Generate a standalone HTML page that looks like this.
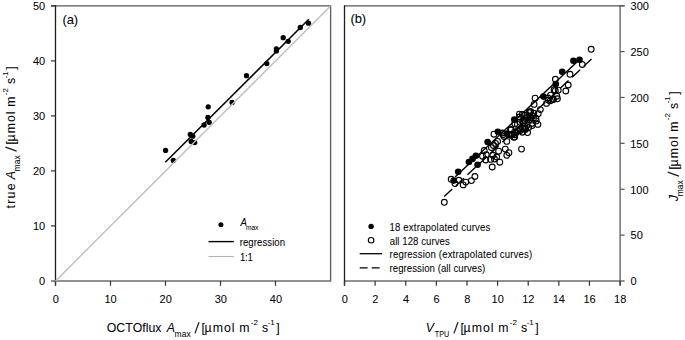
<!DOCTYPE html>
<html><head><meta charset="utf-8"><style>
html,body{margin:0;padding:0;background:#fff;}
svg{display:block;}
text{font-family:"Liberation Sans", sans-serif;fill:#000;stroke:#000;stroke-width:0.04px;font-kerning:none;}
</style></head><body>
<svg width="685" height="340" viewBox="0 0 685 340">
<line x1="51" y1="5.85" x2="331.2" y2="5.85" stroke="#555" stroke-width="1.3"/>
<line x1="330.6" y1="5.7" x2="330.6" y2="281" stroke="#5a5a5a" stroke-width="1.3"/>
<line x1="51" y1="281" x2="331.2" y2="281" stroke="#6c6c6c" stroke-width="1.7"/>
<line x1="55.5" y1="5.2" x2="55.5" y2="285.6" stroke="#1e1e1e" stroke-width="1.3"/>
<text x="39.01" y="284.65" font-size="11.0">0</text>
<line x1="51" y1="225.90" x2="55.5" y2="225.90" stroke="#333" stroke-width="1.2"/>
<text x="32.89" y="229.65" font-size="11.0">10</text>
<line x1="51" y1="170.90" x2="55.5" y2="170.90" stroke="#333" stroke-width="1.2"/>
<text x="32.89" y="174.65" font-size="11.0">20</text>
<line x1="51" y1="115.90" x2="55.5" y2="115.90" stroke="#333" stroke-width="1.2"/>
<text x="32.89" y="119.65" font-size="11.0">30</text>
<line x1="51" y1="60.90" x2="55.5" y2="60.90" stroke="#333" stroke-width="1.2"/>
<text x="32.89" y="64.65" font-size="11.0">40</text>
<line x1="51" y1="5.90" x2="55.5" y2="5.90" stroke="#333" stroke-width="1.2"/>
<text x="32.89" y="9.65" font-size="11.0">50</text>
<line x1="55.50" y1="281" x2="55.50" y2="285.8" stroke="#333" stroke-width="1.2"/>
<text x="52.74" y="302.60" font-size="11.0">0</text>
<line x1="110.50" y1="281" x2="110.50" y2="285.8" stroke="#333" stroke-width="1.2"/>
<text x="104.48" y="302.60" font-size="11.0">10</text>
<line x1="165.50" y1="281" x2="165.50" y2="285.8" stroke="#333" stroke-width="1.2"/>
<text x="159.62" y="302.60" font-size="11.0">20</text>
<line x1="220.50" y1="281" x2="220.50" y2="285.8" stroke="#333" stroke-width="1.2"/>
<text x="214.69" y="302.60" font-size="11.0">30</text>
<line x1="275.50" y1="281" x2="275.50" y2="285.8" stroke="#333" stroke-width="1.2"/>
<text x="269.77" y="302.60" font-size="11.0">40</text>
<line x1="344.5" y1="5.85" x2="624.6" y2="5.85" stroke="#555" stroke-width="1.3"/>
<line x1="344.5" y1="281" x2="624.6" y2="281" stroke="#6c6c6c" stroke-width="1.7"/>
<line x1="620.1" y1="5.2" x2="620.1" y2="285.6" stroke="#5a5a5a" stroke-width="1.3"/>
<line x1="344.5" y1="5.2" x2="344.5" y2="285.6" stroke="#1e1e1e" stroke-width="1.3"/>
<text x="630.57" y="285.30" font-size="11.0">0</text>
<line x1="620.1" y1="235.12" x2="624.6" y2="235.12" stroke="#555" stroke-width="1.2"/>
<text x="630.56" y="239.42" font-size="11.0">50</text>
<line x1="620.1" y1="189.23" x2="624.6" y2="189.23" stroke="#555" stroke-width="1.2"/>
<text x="630.16" y="193.53" font-size="11.0">100</text>
<line x1="620.1" y1="143.34" x2="624.6" y2="143.34" stroke="#555" stroke-width="1.2"/>
<text x="630.16" y="147.65" font-size="11.0">150</text>
<line x1="620.1" y1="97.46" x2="624.6" y2="97.46" stroke="#555" stroke-width="1.2"/>
<text x="630.45" y="101.76" font-size="11.0">200</text>
<line x1="620.1" y1="51.58" x2="624.6" y2="51.58" stroke="#555" stroke-width="1.2"/>
<text x="630.45" y="55.88" font-size="11.0">250</text>
<line x1="620.1" y1="5.69" x2="624.6" y2="5.69" stroke="#555" stroke-width="1.2"/>
<text x="630.58" y="9.99" font-size="11.0">300</text>
<line x1="344.50" y1="281" x2="344.50" y2="285.8" stroke="#333" stroke-width="1.2"/>
<text x="341.74" y="302.60" font-size="11.0">0</text>
<line x1="375.12" y1="281" x2="375.12" y2="285.8" stroke="#333" stroke-width="1.2"/>
<text x="372.36" y="302.60" font-size="11.0">2</text>
<line x1="405.74" y1="281" x2="405.74" y2="285.8" stroke="#333" stroke-width="1.2"/>
<text x="403.02" y="302.60" font-size="11.0">4</text>
<line x1="436.36" y1="281" x2="436.36" y2="285.8" stroke="#333" stroke-width="1.2"/>
<text x="433.56" y="302.60" font-size="11.0">6</text>
<line x1="466.98" y1="281" x2="466.98" y2="285.8" stroke="#333" stroke-width="1.2"/>
<text x="464.22" y="302.60" font-size="11.0">8</text>
<line x1="497.60" y1="281" x2="497.60" y2="285.8" stroke="#333" stroke-width="1.2"/>
<text x="491.58" y="302.60" font-size="11.0">10</text>
<line x1="528.22" y1="281" x2="528.22" y2="285.8" stroke="#333" stroke-width="1.2"/>
<text x="522.26" y="302.60" font-size="11.0">12</text>
<line x1="558.84" y1="281" x2="558.84" y2="285.8" stroke="#333" stroke-width="1.2"/>
<text x="552.76" y="302.60" font-size="11.0">14</text>
<line x1="589.46" y1="281" x2="589.46" y2="285.8" stroke="#333" stroke-width="1.2"/>
<text x="583.47" y="302.60" font-size="11.0">16</text>
<line x1="620.08" y1="281" x2="620.08" y2="285.8" stroke="#333" stroke-width="1.2"/>
<text x="614.08" y="302.60" font-size="11.0">18</text>
<text x="62.39" y="24.20" font-size="13.0" textLength="15.71" lengthAdjust="spacing">(a)</text>
<text x="350.39" y="22.90" font-size="13.0" textLength="15.71" lengthAdjust="spacing">(b)</text>
<text x="106.72" y="332.00" font-size="12.3" textLength="54.71" lengthAdjust="spacing">OCTOflux</text>
<text x="166.71" y="332.00" font-size="12.3" font-style="italic">A</text>
<text x="174.54" y="337.00" font-size="8.5" textLength="16.16" lengthAdjust="spacing">max</text>
<line x1="194.95" y1="333.40" x2="198.95" y2="322.30" stroke="#1a1a1a" stroke-width="1.25"/>
<text x="201.42" y="332.00" font-size="12.3">[</text>
<text x="204.56" y="332.00" font-size="12.3" textLength="29.96" lengthAdjust="spacing">µmol</text>
<text x="239.18" y="332.00" font-size="12.3">m</text>
<text x="250.74" y="324.80" font-size="8.0">-2</text>
<text x="262.06" y="332.00" font-size="12.3">s</text>
<text x="267.64" y="324.80" font-size="8.0">-1</text>
<text x="276.30" y="332.00" font-size="12.3">]</text>
<text x="425.74" y="332.00" font-size="12.3" font-style="italic">V</text>
<text x="434.81" y="336.60" font-size="8.4" textLength="14.44" lengthAdjust="spacingAndGlyphs">TPU</text>
<line x1="453.95" y1="333.40" x2="457.95" y2="322.30" stroke="#1a1a1a" stroke-width="1.25"/>
<text x="460.42" y="332.00" font-size="12.3">[</text>
<text x="463.56" y="332.00" font-size="12.3" textLength="29.96" lengthAdjust="spacing">µmol</text>
<text x="498.18" y="332.00" font-size="12.3">m</text>
<text x="509.74" y="324.80" font-size="8.0">-2</text>
<text x="521.06" y="332.00" font-size="12.3">s</text>
<text x="526.64" y="324.80" font-size="8.0">-1</text>
<text x="535.30" y="332.00" font-size="12.3">]</text>
<g transform="translate(15.2,207.8) rotate(-90)">
<text x="-0.79" y="0.00" font-size="12.3" textLength="25.23" lengthAdjust="spacing">true</text>
<text x="28.61" y="0.00" font-size="12.3" font-style="italic">A</text>
<text x="36.34" y="5.00" font-size="8.5" textLength="16.16" lengthAdjust="spacing">max</text>
<line x1="56.75" y1="1.40" x2="60.75" y2="-9.70" stroke="#1a1a1a" stroke-width="1.25"/>
<text x="63.22" y="0.00" font-size="12.3">[</text>
<text x="66.36" y="0.00" font-size="12.3" textLength="29.96" lengthAdjust="spacing">µmol</text>
<text x="100.98" y="0.00" font-size="12.3">m</text>
<text x="112.54" y="-7.20" font-size="8.0">-2</text>
<text x="123.86" y="0.00" font-size="12.3">s</text>
<text x="129.44" y="-7.20" font-size="8.0">-1</text>
<text x="138.10" y="0.00" font-size="12.3">]</text>
</g>
<g transform="translate(677.5,200.6) rotate(-90)">
<text x="-0.67" y="0.00" font-size="12.3" font-style="italic">J</text>
<text x="4.34" y="5.00" font-size="8.5" textLength="15.96" lengthAdjust="spacing">max</text>
<line x1="24.55" y1="1.40" x2="28.55" y2="-9.70" stroke="#1a1a1a" stroke-width="1.25"/>
<text x="31.02" y="0.00" font-size="12.3">[</text>
<text x="34.16" y="0.00" font-size="12.3" textLength="29.96" lengthAdjust="spacing">µmol</text>
<text x="68.78" y="0.00" font-size="12.3">m</text>
<text x="80.34" y="-7.20" font-size="8.0">-2</text>
<text x="91.66" y="0.00" font-size="12.3">s</text>
<text x="97.24" y="-7.20" font-size="8.0">-1</text>
<text x="105.90" y="0.00" font-size="12.3">]</text>
</g>
<circle cx="165.6" cy="150.4" r="2.65" fill="#000"/>
<circle cx="173.3" cy="160.5" r="2.65" fill="#000"/>
<circle cx="190.3" cy="134.5" r="2.65" fill="#000"/>
<circle cx="192.7" cy="136.2" r="2.65" fill="#000"/>
<circle cx="191.2" cy="141.5" r="2.65" fill="#000"/>
<circle cx="194.7" cy="142.6" r="2.65" fill="#000"/>
<circle cx="204.1" cy="125.0" r="2.65" fill="#000"/>
<circle cx="207.9" cy="117.4" r="2.65" fill="#000"/>
<circle cx="209.2" cy="122.3" r="2.65" fill="#000"/>
<circle cx="208.2" cy="106.8" r="2.65" fill="#000"/>
<circle cx="232.1" cy="102.4" r="2.65" fill="#000"/>
<circle cx="246.5" cy="75.7" r="2.65" fill="#000"/>
<circle cx="266.8" cy="63.6" r="2.65" fill="#000"/>
<circle cx="276.4" cy="48.8" r="2.65" fill="#000"/>
<circle cx="276.4" cy="50.9" r="2.65" fill="#000"/>
<circle cx="283.2" cy="37.7" r="2.65" fill="#000"/>
<circle cx="288.2" cy="41.3" r="2.65" fill="#000"/>
<circle cx="300.3" cy="27.5" r="2.65" fill="#000"/>
<circle cx="308.5" cy="23.2" r="2.65" fill="#000"/>
<line x1="165.3" y1="162.3" x2="308.8" y2="19.3" stroke="#000" stroke-width="1.5"/>
<line x1="55.5" y1="280.9" x2="330.5" y2="5.899999999999977" stroke="#bdbdbd" stroke-width="1.4"/>
<circle cx="220.9" cy="224.7" r="2.5" fill="#000"/>
<g transform="translate(0 226.10) scale(1 1.06) translate(0 -226.10)"><text x="240.57" y="226.10" font-size="9.6" font-style="italic" style="stroke-width:0.05px">A</text></g>
<text x="245.96" y="229.70" font-size="6.6" fill="#444" textLength="12.41" lengthAdjust="spacing">max</text>
<line x1="208.5" y1="241.6" x2="233.8" y2="241.6" stroke="#000" stroke-width="1.4"/>
<g transform="translate(0 246.00) scale(1 1.06) translate(0 -246.00)"><text x="239.66" y="246.00" font-size="9.6" textLength="45.46" lengthAdjust="spacing" style="stroke-width:0.05px">regression</text></g>
<line x1="208.5" y1="256.5" x2="233.8" y2="256.5" stroke="#b4b4b4" stroke-width="1.1"/>
<g transform="translate(0 261.10) scale(1 1.06) translate(0 -261.10)"><text x="239.97" y="261.10" font-size="9.6" textLength="12.90" lengthAdjust="spacing" style="stroke-width:0.05px">1:1</text></g>
<line x1="455.1" y1="176.9" x2="578.5" y2="60.5" stroke="#000" stroke-width="1.4"/>
<line x1="444.2" y1="196.5" x2="591.5" y2="59.1" stroke="#000" stroke-width="1.4" stroke-dasharray="11 4.9"/>
<circle cx="444.3" cy="202.3" r="2.9" fill="none" stroke="#000" stroke-width="1.1"/>
<circle cx="451.2" cy="179.3" r="2.9" fill="none" stroke="#000" stroke-width="1.1"/>
<circle cx="455.0" cy="183.6" r="2.9" fill="none" stroke="#000" stroke-width="1.1"/>
<circle cx="458.9" cy="180.3" r="2.9" fill="none" stroke="#000" stroke-width="1.1"/>
<circle cx="463.2" cy="184.9" r="2.9" fill="none" stroke="#000" stroke-width="1.1"/>
<circle cx="465.8" cy="182.1" r="2.9" fill="none" stroke="#000" stroke-width="1.1"/>
<circle cx="471.4" cy="180.6" r="2.9" fill="none" stroke="#000" stroke-width="1.1"/>
<circle cx="474.9" cy="176.5" r="2.9" fill="none" stroke="#000" stroke-width="1.1"/>
<circle cx="492.2" cy="167.0" r="2.9" fill="none" stroke="#000" stroke-width="1.1"/>
<circle cx="499.8" cy="162.2" r="2.9" fill="none" stroke="#000" stroke-width="1.1"/>
<circle cx="485.7" cy="160.0" r="2.9" fill="none" stroke="#000" stroke-width="1.1"/>
<circle cx="482.5" cy="156.2" r="2.9" fill="none" stroke="#000" stroke-width="1.1"/>
<circle cx="484.2" cy="150.5" r="2.9" fill="none" stroke="#000" stroke-width="1.1"/>
<circle cx="486.3" cy="154.8" r="2.9" fill="none" stroke="#000" stroke-width="1.1"/>
<circle cx="490.6" cy="159.4" r="2.9" fill="none" stroke="#000" stroke-width="1.1"/>
<circle cx="492.9" cy="155.3" r="2.9" fill="none" stroke="#000" stroke-width="1.1"/>
<circle cx="494.5" cy="159.0" r="2.9" fill="none" stroke="#000" stroke-width="1.1"/>
<circle cx="496.7" cy="157.0" r="2.9" fill="none" stroke="#000" stroke-width="1.1"/>
<circle cx="498.6" cy="151.2" r="2.9" fill="none" stroke="#000" stroke-width="1.1"/>
<circle cx="491.4" cy="147.6" r="2.9" fill="none" stroke="#000" stroke-width="1.1"/>
<circle cx="493.4" cy="145.5" r="2.9" fill="none" stroke="#000" stroke-width="1.1"/>
<circle cx="495.5" cy="143.4" r="2.9" fill="none" stroke="#000" stroke-width="1.1"/>
<circle cx="497.6" cy="141.4" r="2.9" fill="none" stroke="#000" stroke-width="1.1"/>
<circle cx="494.0" cy="134.2" r="2.9" fill="none" stroke="#000" stroke-width="1.1"/>
<circle cx="506.8" cy="141.4" r="2.9" fill="none" stroke="#000" stroke-width="1.1"/>
<circle cx="505.3" cy="149.1" r="2.9" fill="none" stroke="#000" stroke-width="1.1"/>
<circle cx="508.9" cy="152.7" r="2.9" fill="none" stroke="#000" stroke-width="1.1"/>
<circle cx="506.8" cy="155.3" r="2.9" fill="none" stroke="#000" stroke-width="1.1"/>
<circle cx="521.5" cy="149.1" r="2.9" fill="none" stroke="#000" stroke-width="1.1"/>
<circle cx="503.0" cy="134.7" r="2.9" fill="none" stroke="#000" stroke-width="1.1"/>
<circle cx="511.2" cy="129.6" r="2.9" fill="none" stroke="#000" stroke-width="1.1"/>
<circle cx="514.3" cy="134.7" r="2.9" fill="none" stroke="#000" stroke-width="1.1"/>
<circle cx="519.4" cy="114.1" r="2.9" fill="none" stroke="#000" stroke-width="1.1"/>
<circle cx="517.4" cy="124.4" r="2.9" fill="none" stroke="#000" stroke-width="1.1"/>
<circle cx="520.4" cy="130.6" r="2.9" fill="none" stroke="#000" stroke-width="1.1"/>
<circle cx="523.5" cy="122.4" r="2.9" fill="none" stroke="#000" stroke-width="1.1"/>
<circle cx="525.6" cy="128.5" r="2.9" fill="none" stroke="#000" stroke-width="1.1"/>
<circle cx="529.7" cy="116.2" r="2.9" fill="none" stroke="#000" stroke-width="1.1"/>
<circle cx="531.8" cy="123.4" r="2.9" fill="none" stroke="#000" stroke-width="1.1"/>
<circle cx="535.9" cy="118.2" r="2.9" fill="none" stroke="#000" stroke-width="1.1"/>
<circle cx="527.6" cy="132.6" r="2.9" fill="none" stroke="#000" stroke-width="1.1"/>
<circle cx="537.9" cy="124.4" r="2.9" fill="none" stroke="#000" stroke-width="1.1"/>
<circle cx="533.8" cy="113.1" r="2.9" fill="none" stroke="#000" stroke-width="1.1"/>
<circle cx="591.2" cy="49.3" r="2.9" fill="none" stroke="#000" stroke-width="1.1"/>
<circle cx="582.3" cy="64.5" r="2.9" fill="none" stroke="#000" stroke-width="1.1"/>
<circle cx="570.0" cy="74.3" r="2.9" fill="none" stroke="#000" stroke-width="1.1"/>
<circle cx="555.4" cy="79.3" r="2.9" fill="none" stroke="#000" stroke-width="1.1"/>
<circle cx="568.2" cy="85.0" r="2.9" fill="none" stroke="#000" stroke-width="1.1"/>
<circle cx="565.8" cy="91.0" r="2.9" fill="none" stroke="#000" stroke-width="1.1"/>
<circle cx="555.3" cy="90.7" r="2.9" fill="none" stroke="#000" stroke-width="1.1"/>
<circle cx="550.6" cy="95.1" r="2.9" fill="none" stroke="#000" stroke-width="1.1"/>
<circle cx="556.8" cy="96.2" r="2.9" fill="none" stroke="#000" stroke-width="1.1"/>
<circle cx="548.5" cy="100.3" r="2.9" fill="none" stroke="#000" stroke-width="1.1"/>
<circle cx="552.6" cy="99.3" r="2.9" fill="none" stroke="#000" stroke-width="1.1"/>
<circle cx="546.5" cy="103.4" r="2.9" fill="none" stroke="#000" stroke-width="1.1"/>
<circle cx="535.1" cy="98.2" r="2.9" fill="none" stroke="#000" stroke-width="1.1"/>
<circle cx="534.1" cy="104.4" r="2.9" fill="none" stroke="#000" stroke-width="1.1"/>
<circle cx="540.3" cy="109.6" r="2.9" fill="none" stroke="#000" stroke-width="1.1"/>
<circle cx="538.2" cy="113.7" r="2.9" fill="none" stroke="#000" stroke-width="1.1"/>
<circle cx="532.0" cy="115.7" r="2.9" fill="none" stroke="#000" stroke-width="1.1"/>
<circle cx="536.2" cy="120.9" r="2.9" fill="none" stroke="#000" stroke-width="1.1"/>
<circle cx="514.8" cy="123.8" r="2.9" fill="none" stroke="#000" stroke-width="1.1"/>
<circle cx="522.2" cy="114.5" r="2.9" fill="none" stroke="#000" stroke-width="1.1"/>
<circle cx="522.8" cy="121.0" r="2.9" fill="none" stroke="#000" stroke-width="1.1"/>
<circle cx="512.3" cy="134.8" r="2.9" fill="none" stroke="#000" stroke-width="1.1"/>
<circle cx="510.9" cy="134.5" r="2.9" fill="none" stroke="#000" stroke-width="1.1"/>
<circle cx="525.5" cy="129.4" r="2.9" fill="none" stroke="#000" stroke-width="1.1"/>
<circle cx="510.6" cy="129.7" r="2.9" fill="none" stroke="#000" stroke-width="1.1"/>
<circle cx="532.1" cy="125.6" r="2.9" fill="none" stroke="#000" stroke-width="1.1"/>
<circle cx="524.2" cy="120.3" r="2.9" fill="none" stroke="#000" stroke-width="1.1"/>
<circle cx="530.1" cy="111.8" r="2.9" fill="none" stroke="#000" stroke-width="1.1"/>
<circle cx="522.4" cy="132.2" r="2.9" fill="none" stroke="#000" stroke-width="1.1"/>
<circle cx="516.4" cy="132.6" r="2.9" fill="none" stroke="#000" stroke-width="1.1"/>
<circle cx="525.5" cy="118.4" r="2.9" fill="none" stroke="#000" stroke-width="1.1"/>
<circle cx="519.5" cy="117.0" r="2.9" fill="none" stroke="#000" stroke-width="1.1"/>
<circle cx="527.2" cy="118.0" r="2.9" fill="none" stroke="#000" stroke-width="1.1"/>
<circle cx="519.8" cy="129.3" r="2.9" fill="none" stroke="#000" stroke-width="1.1"/>
<circle cx="519.9" cy="122.3" r="2.9" fill="none" stroke="#000" stroke-width="1.1"/>
<circle cx="533.4" cy="118.4" r="2.9" fill="none" stroke="#000" stroke-width="1.1"/>
<circle cx="517.9" cy="130.9" r="2.9" fill="none" stroke="#000" stroke-width="1.1"/>
<circle cx="528.7" cy="127.4" r="2.9" fill="none" stroke="#000" stroke-width="1.1"/>
<circle cx="526.8" cy="115.1" r="2.9" fill="none" stroke="#000" stroke-width="1.1"/>
<circle cx="524.5" cy="128.7" r="2.9" fill="none" stroke="#000" stroke-width="1.1"/>
<circle cx="514.5" cy="132.2" r="2.9" fill="none" stroke="#000" stroke-width="1.1"/>
<circle cx="513.8" cy="137.3" r="2.9" fill="none" stroke="#000" stroke-width="1.1"/>
<circle cx="531.1" cy="117.6" r="2.9" fill="none" stroke="#000" stroke-width="1.1"/>
<circle cx="530.8" cy="111.7" r="2.9" fill="none" stroke="#000" stroke-width="1.1"/>
<circle cx="529.6" cy="119.7" r="2.9" fill="none" stroke="#000" stroke-width="1.1"/>
<circle cx="525.0" cy="120.9" r="2.9" fill="none" stroke="#000" stroke-width="1.1"/>
<circle cx="524.8" cy="126.1" r="2.9" fill="none" stroke="#000" stroke-width="1.1"/>
<circle cx="514.7" cy="137.1" r="2.9" fill="none" stroke="#000" stroke-width="1.1"/>
<circle cx="529.1" cy="112.7" r="2.9" fill="none" stroke="#000" stroke-width="1.1"/>
<circle cx="522.6" cy="128.4" r="2.9" fill="none" stroke="#000" stroke-width="1.1"/>
<circle cx="510.9" cy="135.2" r="2.9" fill="none" stroke="#000" stroke-width="1.1"/>
<circle cx="511.0" cy="129.9" r="2.9" fill="none" stroke="#000" stroke-width="1.1"/>
<circle cx="554.1" cy="89.8" r="2.9" fill="none" stroke="#000" stroke-width="1.1"/>
<circle cx="558.2" cy="90.2" r="2.9" fill="none" stroke="#000" stroke-width="1.1"/>
<circle cx="553.5" cy="99.6" r="2.9" fill="none" stroke="#000" stroke-width="1.1"/>
<circle cx="547.9" cy="98.0" r="2.9" fill="none" stroke="#000" stroke-width="1.1"/>
<circle cx="557.4" cy="98.8" r="2.9" fill="none" stroke="#000" stroke-width="1.1"/>
<circle cx="550.4" cy="100.8" r="2.9" fill="none" stroke="#000" stroke-width="1.1"/>
<circle cx="504.0" cy="136.5" r="2.9" fill="none" stroke="#000" stroke-width="1.1"/>
<circle cx="502.5" cy="133.0" r="2.9" fill="none" stroke="#000" stroke-width="1.1"/>
<circle cx="458.2" cy="171.8" r="3.3" fill="#000"/>
<circle cx="453.7" cy="180.6" r="3.3" fill="#000"/>
<circle cx="468.9" cy="162.0" r="3.3" fill="#000"/>
<circle cx="472.5" cy="158.9" r="3.3" fill="#000"/>
<circle cx="475.9" cy="155.8" r="3.3" fill="#000"/>
<circle cx="477.6" cy="164.7" r="3.3" fill="#000"/>
<circle cx="487.6" cy="142.0" r="3.3" fill="#000"/>
<circle cx="497.9" cy="131.8" r="3.3" fill="#000"/>
<circle cx="507.0" cy="133.5" r="3.3" fill="#000"/>
<circle cx="514.3" cy="119.6" r="3.3" fill="#000"/>
<circle cx="543.4" cy="96.6" r="3.3" fill="#000"/>
<circle cx="555.8" cy="84.0" r="3.3" fill="#000"/>
<circle cx="562.2" cy="71.7" r="3.3" fill="#000"/>
<circle cx="573.4" cy="60.8" r="3.3" fill="#000"/>
<circle cx="579.5" cy="59.8" r="3.3" fill="#000"/>
<circle cx="371.1" cy="226.4" r="2.7" fill="#000"/>
<g transform="translate(0 231.30) scale(1 1.06) translate(0 -231.30)"><text x="389.47" y="231.30" font-size="9.6" textLength="100.88" lengthAdjust="spacing" style="stroke-width:0.05px">18 extrapolated curves</text></g>
<circle cx="371.1" cy="240.2" r="2.75" fill="#fff" stroke="#000" stroke-width="1.15"/>
<g transform="translate(0 245.00) scale(1 1.06) translate(0 -245.00)"><text x="389.79" y="245.00" font-size="9.6" textLength="59.95" lengthAdjust="spacing" style="stroke-width:0.05px">all 128 curves</text></g>
<line x1="359.7" y1="253.7" x2="382.1" y2="253.7" stroke="#000" stroke-width="1.3"/>
<g transform="translate(0 258.50) scale(1 1.06) translate(0 -258.50)"><text x="389.56" y="258.50" font-size="9.6" textLength="142.63" lengthAdjust="spacing" style="stroke-width:0.05px">regression (extrapolated curves)</text></g>
<line x1="359.7" y1="267.8" x2="380.1" y2="267.8" stroke="#000" stroke-width="1.3" stroke-dasharray="7.9 4.2"/>
<g transform="translate(0 272.40) scale(1 1.06) translate(0 -272.40)"><text x="389.56" y="272.40" font-size="9.6" textLength="95.73" lengthAdjust="spacing" style="stroke-width:0.05px">regression (all curves)</text></g>
</svg>
</body></html>
